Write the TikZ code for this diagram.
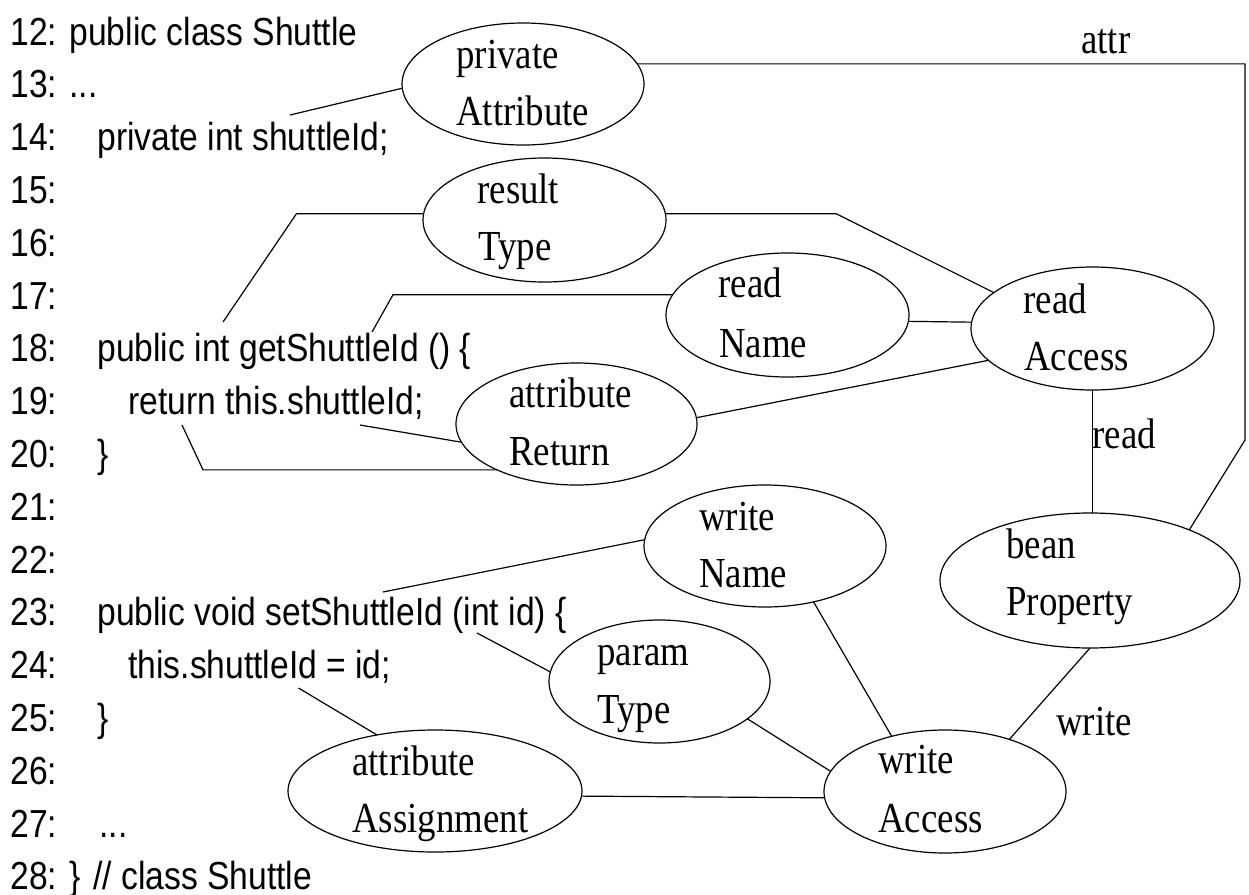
\documentclass[tikz,border=0pt]{standalone}
\usepackage{fontspec}
\newfontfamily\codefont{Liberation Sans}[FakeStretch=0.86]
\newfontfamily\labfont{Liberation Serif}[FakeStretch=0.86]
\usetikzlibrary{shapes.geometric}
\begin{document}
\begin{tikzpicture}[x=0.5pt,y=-0.5pt,
  ell/.style={ellipse,draw,line width=0.6pt,inner sep=0pt,outer sep=0pt},
  code/.style={anchor=base west,inner sep=0pt,font=\codefont\fontsize{19.55}{24}\selectfont},
  lab/.style={anchor=base west,inner sep=0pt,font=\labfont\fontsize{21.4}{26}\selectfont},
  conn/.style={line width=0.6pt}]
\useasboundingbox (0,0) rectangle (1249,895);

% code lines
\node[code] (n12) at (10,45) {12: public class Shuttle};
\node[code] (n13) at (10,97.8) {13: ...};
\node[code] (n14) at (10,150.6) {14:};
\node[code] (c14) at (97,150.6) {private int shuttleId;};
\node[code] (n15) at (10,203.4) {15:};
\node[code] (n16) at (10,256.2) {16:};
\node[code] (n17) at (10,309) {17:};
\node[code] (n18) at (10,361.8) {18:};
\node[code] (c18) at (97,361.8) {public int getShuttleId () \{};
\node[code] (n19) at (10,414.6) {19:};
\node[code] (c19) at (128,414.6) {return this.shuttleId;};
\node[code] (n20) at (10,467.4) {20:};
\node[code] (c20) at (97,467.4) {\}};
\node[code] (n21) at (10,520.2) {21:};
\node[code] (n22) at (10,573) {22:};
\node[code] (n23) at (10,625.8) {23:};
\node[code] (c23) at (97,625.8) {public void setShuttleId (int id) \{};
\node[code] (n24) at (10,678.6) {24:};
\node[code] (c24) at (128,678.6) {this.shuttleId = id;};
\node[code] (n25) at (10,731.4) {25:};
\node[code] (c25) at (97,731.4) {\}};
\node[code] (n26) at (10,784.2) {26:};
\node[code] (n27) at (10,837) {27:};
\node[code] (c27) at (99,837) {...};
\node[code] (n28) at (10,889.8) {28: \} // class Shuttle};

% ellipses (size in pt = diameter in px / 2)
\node[ell,minimum width=121pt,minimum height=61pt] (privAttr) at (523,84) {};
\node[ell,minimum width=121.5pt,minimum height=62pt] (resultType) at (544.5,220) {};
\node[ell,minimum width=121.5pt,minimum height=62pt] (readName) at (787.5,315) {};
\node[ell,minimum width=121.5pt,minimum height=61.5pt] (readAccess) at (1092.5,328.5) {};
\node[ell,minimum width=120.5pt,minimum height=61pt] (attrReturn) at (576.5,424) {};
\node[ell,minimum width=121pt,minimum height=61pt] (writeName) at (765,546) {};
\node[ell,minimum width=150pt,minimum height=67.5pt] (bean) at (1090,580.5) {};
\node[ell,minimum width=110.5pt,minimum height=61.5pt] (paramType) at (659.5,681.5) {};
\node[ell,minimum width=147pt,minimum height=61pt] (attrAssign) at (435,791) {};
\node[ell,minimum width=121pt,minimum height=61.5pt] (writeAccess) at (945,791.5) {};

% ellipse texts
\node[lab] (t1a) at (456,68) {private};
\node[lab] (t1b) at (456,125) {Attribute};
\node[lab] (t2a) at (477,203) {result};
\node[lab] (t2b) at (478,260) {Type};
\node[lab] (t3a) at (718,297) {read};
\node[lab] (t3b) at (719,357) {Name};
\node[lab] (t4a) at (1023,313) {read};
\node[lab] (t4b) at (1024,370) {Access};
\node[lab] (t5a) at (509,407) {attribute};
\node[lab] (t5b) at (509,465) {Return};
\node[lab] (t6a) at (699,530) {write};
\node[lab] (t6b) at (699,587) {Name};
\node[lab] (t7a) at (1006,558) {bean};
\node[lab] (t7b) at (1006,615) {Property};
\node[lab] (t8a) at (597,665) {param};
\node[lab] (t8b) at (597,723) {Type};
\node[lab] (t9a) at (352,775) {attribute};
\node[lab] (t9b) at (352,832) {Assignment};
\node[lab] (t10a) at (878,773) {write};
\node[lab] (t10b) at (878,832) {Access};

% edge labels
\node[lab] (eattr) at (1081,53) {attr};
\node[lab] (eread) at (1092,448) {read};
\node[lab] (ewrite) at (1056,735) {write};

% free ends and bends
\coordinate (pEnd14) at (290,115);
\coordinate (attrCorner) at (1245,63);
\coordinate (attrBend) at (1245,440);
\coordinate (rtBend) at (296.5,213);
\coordinate (rtEnd) at (223,322);
\coordinate (rtBend2) at (836,213);
\coordinate (rnBend) at (393,295);
\coordinate (rnEnd) at (372,332);
\coordinate (arEnd19) at (360,425);
\coordinate (arBend) at (203,470);
\coordinate (arEnd) at (182,425);
\coordinate (wnEnd) at (383,592);
\coordinate (ptEnd) at (477,633);
\coordinate (aaEnd) at (298.5,688);

% connectors
\draw[conn] (privAttr.182.8) -- (pEnd14);
\draw[conn] (privAttr.10) -- (privAttr.10 -| attrCorner) -- (attrBend) -- (bean.27);
\draw[conn] (resultType.177) -- (resultType.177 -| rtBend) -- (rtEnd);
\draw[conn] (resultType.3) -- (resultType.3 -| rtBend2) -- (readAccess.160);
\draw[conn] (readName.170) -- (readName.170 -| rnBend) -- (rnEnd);
\draw[conn] (readName.-3.3) -- (readAccess.177);
\draw[conn] (readAccess.197) -- (attrReturn.3);
\draw[conn] (attrReturn.189) -- (arEnd19);
\draw[conn] (attrReturn.210) -- (attrReturn.210 -| arBend) -- (arEnd);
\draw[conn] (readAccess.south) -- (readAccess.south |- bean.north);
\draw[conn] (writeName.177) -- (wnEnd);
\draw[conn] (writeName.-49) -- (writeAccess.134);
\draw[conn] (paramType.175) -- (ptEnd);
\draw[conn] (paramType.-23.6) -- (writeAccess.170);
\draw[conn] (attrAssign.136.4) -- (aaEnd);
\draw[conn] (attrAssign.-2.7) -- (writeAccess.183.1);
\draw[conn] (bean.south) -- (writeAccess.39);
\end{tikzpicture}
\end{document}
